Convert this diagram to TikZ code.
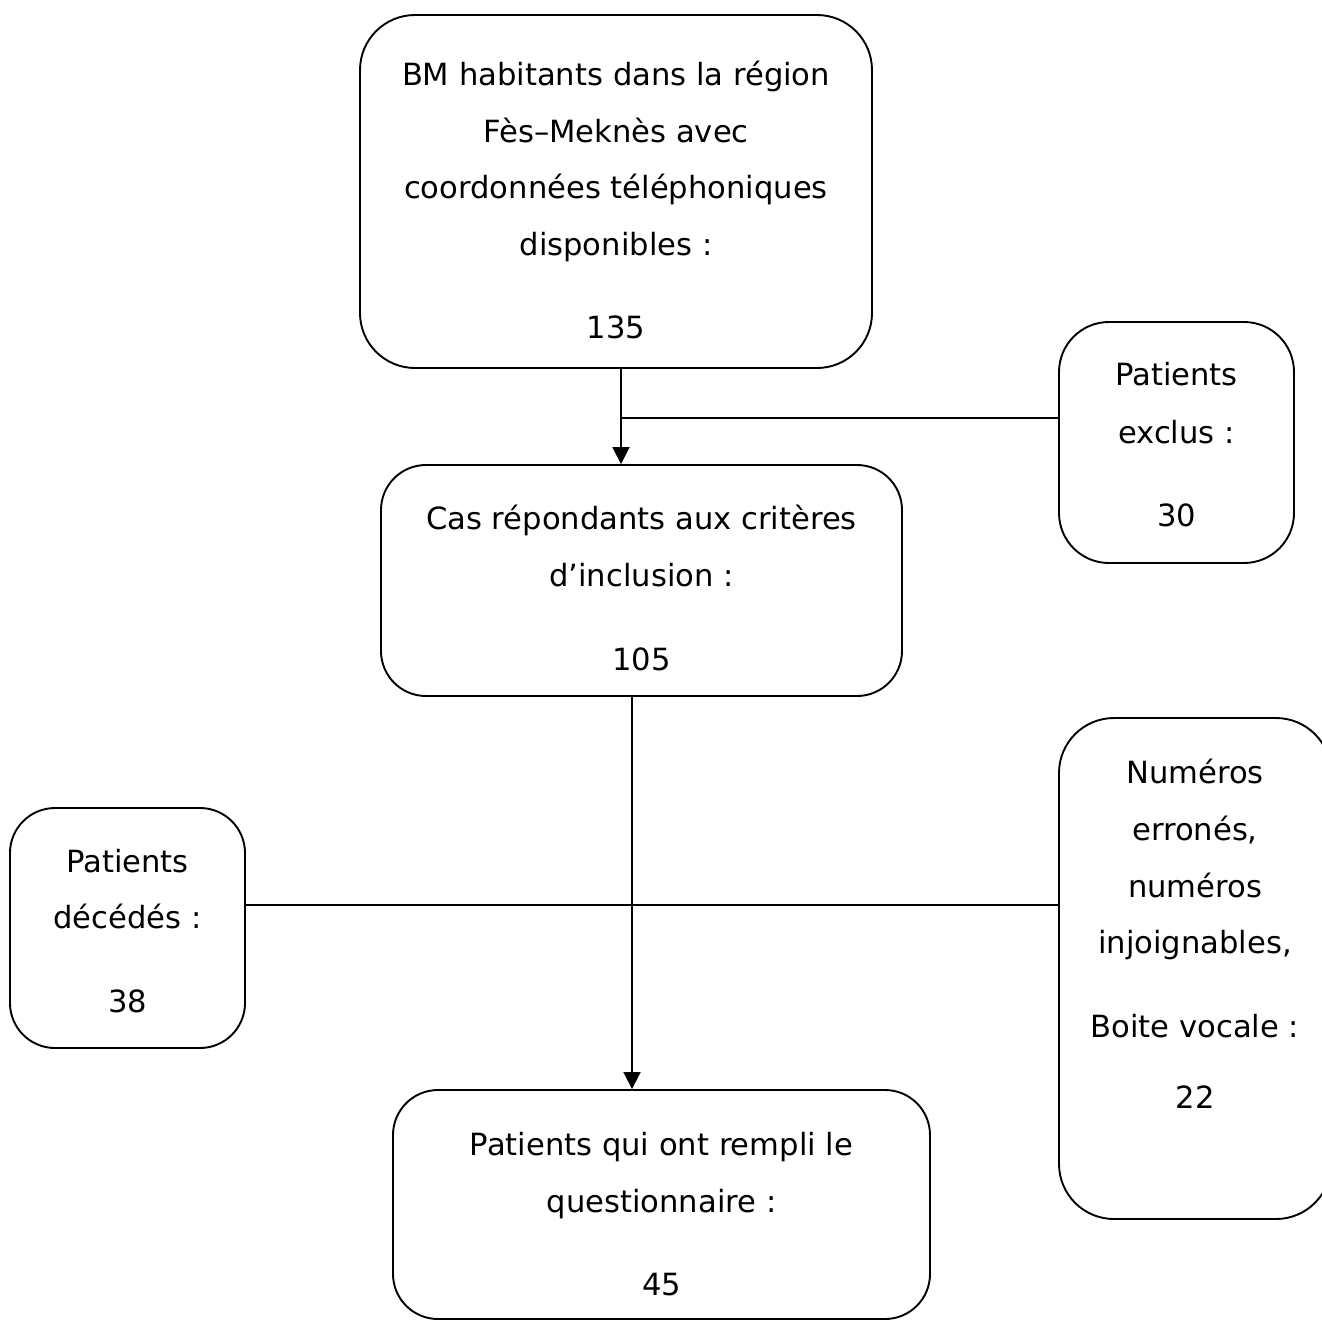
\documentclass[tikz,border=0pt]{standalone}
\usepackage{fontspec}
\setmainfont{DejaVu Sans}
\usetikzlibrary{arrows.meta}
\begin{document}
\begin{tikzpicture}[x=1pt,y=-1pt,
  box/.style={draw,line width=1.9pt,rectangle,inner sep=0pt},
  t/.style={anchor=base,inner sep=0pt,font=\fontsize{30.6}{36}\selectfont},
  arr/.style={line width=1.9pt,-{Triangle[width=17pt,length=17pt]}},
  ln/.style={line width=1.9pt}]
\useasboundingbox (0,0) rectangle (1322,1320);
% boxes
\node[box,rounded corners=55pt,minimum width=512pt,minimum height=353pt] (top) at (616,191.5) {};
\node[box,rounded corners=45pt,minimum width=521pt,minimum height=231pt] (mid) at (641.5,580.5) {};
\node[box,rounded corners=50pt,minimum width=235pt,minimum height=241pt] (exc) at (1176.5,442.5) {};
\node[box,rounded corners=45pt,minimum width=235pt,minimum height=240pt] (dec) at (127.5,928) {};
\node[box,rounded corners=55pt,minimum width=272pt,minimum height=501pt] (num) at (1195,968.5) {};
\node[box,rounded corners=45pt,minimum width=537pt,minimum height=229pt] (bot) at (661.5,1204.5) {};
% texts
\node[t] (a1) at (616,85) {BM habitants dans la région};
\node[t] (a2) at (616,142) {Fès–Meknès avec};
\node[t] (a3) at (616,198) {coordonnées téléphoniques};
\node[t] (a4) at (616,255) {disponibles :};
\node[t] (a5) at (616,338) {135};
\node[t] (b1) at (641.5,529) {Cas répondants aux critères};
\node[t] (b2) at (641.5,586) {d’inclusion :};
\node[t] (b3) at (641.5,670) {105};
\node[t] (c1) at (1176.5,385) {Patients};
\node[t] (c2) at (1176.5,443) {exclus :};
\node[t] (c3) at (1176.5,526) {30};
\node[t] (d1) at (127.5,872) {Patients};
\node[t] (d2) at (127.5,928) {décédés :};
\node[t] (d3) at (127.5,1012) {38};
\node[t] (e1) at (1195,783) {Numéros};
\node[t] (e2) at (1195,840) {erronés,};
\node[t] (e3) at (1195,897) {numéros};
\node[t] (e4) at (1195,953) {injoignables,};
\node[t] (e5) at (1195,1037) {Boite vocale :};
\node[t] (e6) at (1195,1108) {22};
\node[t] (f1) at (661.5,1155) {Patients qui ont rempli le};
\node[t] (f2) at (661.5,1212) {questionnaire :};
\node[t] (f3) at (661.5,1295) {45};
% connectors
\draw[arr] ([xshift=5pt]top.south) -- ([xshift=5pt]top.south |- mid.north);
\coordinate (j1) at (621,418);
\draw[ln] (j1) -- (j1 -| exc.west);
\draw[arr] ([xshift=-9.5pt]mid.south) -- ([xshift=-9.5pt]mid.south |- bot.north);
\draw[ln] ([yshift=23pt]dec.east) -- ([yshift=23pt]dec.east -| num.west);
\end{tikzpicture}
\end{document}
